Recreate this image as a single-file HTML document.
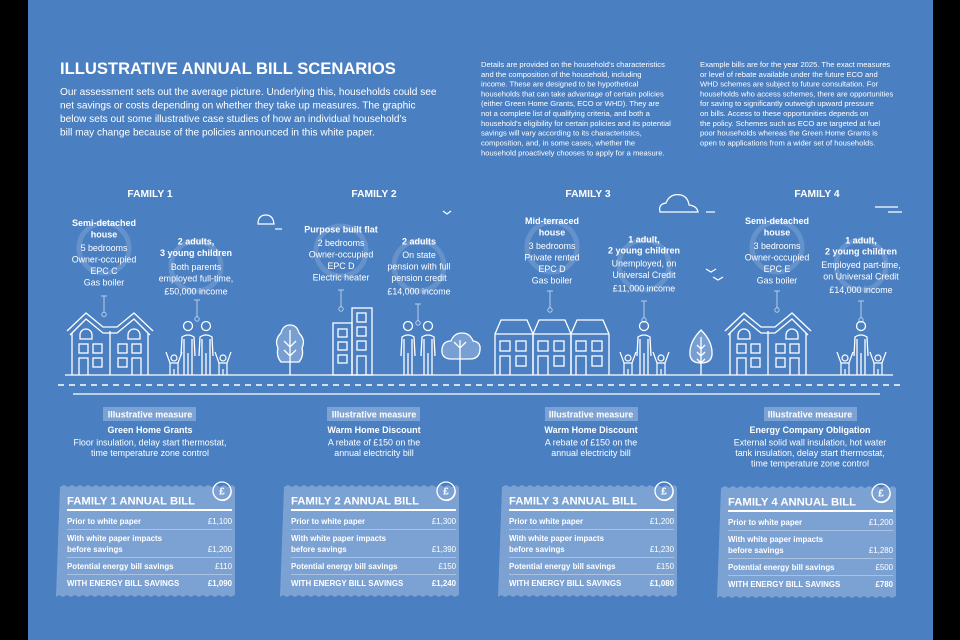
<!DOCTYPE html>
<html><head><meta charset="utf-8"><style>
html,body{margin:0;padding:0;background:#000;}
svg{display:block;}
text{font-family:"Liberation Sans",sans-serif;fill:#fff;}
.b{font-weight:bold;}
.s{font-size:7.6px;}
.f{font-size:8.9px;text-anchor:middle;}
.fb{font-size:9px;font-weight:bold;text-anchor:middle;}
.r{font-size:7.9px;font-weight:bold;}
.v{font-size:7.9px;text-anchor:end;}
</style></head><body>
<svg width="960" height="640" viewBox="0 0 960 640" xmlns="http://www.w3.org/2000/svg">
<defs>
<g id="adult" fill="none" stroke="#fff" stroke-width="1.3"><circle cx="0" cy="-49" r="4.5"/><path d="M-7,-19 L-6,-38 Q0,-42 6,-38 L7,-19 M-4,0 V-36 M4,0 V-36 M0,-22 V0"/></g>
<g id="child" fill="none" stroke="#fff" stroke-width="1.2"><circle cx="0" cy="-17" r="3"/><path d="M-8,-23 L-4,-12 L-4,0 M8,-23 L4,-12 L4,0 M-4,-12 H4 M0,-6 V0"/></g>
<g id="semi" fill="none" stroke="#fff" stroke-width="1.3">
<path d="M0,22 L19,4 L36,18 L50,18 L67,4 L86,22"/>
<path d="M3,26 L19,10 L36,24 L50,24 L67,10 L83,26"/>
<path d="M5,24 V66 M81,24 V66 M43,22 V66"/>
<path d="M13,30 V26 A6,6 0 0 1 25,26 V30 Z M61,30 V26 A6,6 0 0 1 73,26 V30 Z"/>
<rect x="12" y="35" width="9" height="9"/><rect x="26" y="35" width="9" height="9"/><rect x="51" y="35" width="9" height="9"/><rect x="65" y="35" width="9" height="9"/>
<path d="M12,66 V49 H21 V66 M65,66 V49 H74 V66"/>
<rect x="26" y="49" width="9" height="9"/><rect x="51" y="49" width="9" height="9"/>
</g>
<g id="terr" fill="none" stroke="#fff" stroke-width="1.3">
<path d="M0,55 V14 L6,0 H32 L38,14 V55 M0,14 H38"/>
<rect x="5" y="21" width="10" height="10"/><rect x="21" y="21" width="10" height="10"/>
<path d="M5,55 V36 H15 V55"/><rect x="21" y="36" width="10" height="10"/>
</g>
<g id="coin" fill="none" stroke="#fff" stroke-width="1.3"><circle r="9"/><path d="M-6,7 A9,9 0 0 0 9,-2" stroke-width="0.8"/><text x="0" y="3.5" font-size="10" font-weight="bold" text-anchor="middle" stroke="none">£</text></g>
<path id="bill" d="M0,2 l4,-2 l4,2 l4,-2 l4,2 l4,-2 l4,2 l4,-2 l4,2 l4,-2 l4,2 l4,-2 l4,2 l4,-2 l4,2 l4,-2 l4,2 l4,-2 l4,2 l4,-2 l4,2 l4,-2 l4,2 l4,-2 l4,2 l4,-2 l4,2 l4,-2 l4,2 l4,-2 l4,2 l4,-2 l4,2 l4,-2 l4,2 l4,-2 l4,2 l4,-2 l4,2 l4,-2 l4,2 l4,-2 l4,2 l4,-2 l3,2 V110 l-4,2 l-4,-2 l-4,2 l-4,-2 l-4,2 l-4,-2 l-4,2 l-4,-2 l-4,2 l-4,-2 l-4,2 l-4,-2 l-4,2 l-4,-2 l-4,2 l-4,-2 l-4,2 l-4,-2 l-4,2 l-4,-2 l-4,2 l-4,-2 l-4,2 l-4,-2 l-4,2 l-4,-2 l-4,2 l-4,-2 l-4,2 l-4,-2 l-4,2 l-4,-2 l-4,2 l-4,-2 l-4,2 l-4,-2 l-4,2 l-4,-2 l-4,2 l-4,-2 l-4,2 l-4,-2 l-4,2 l-4,-2 l-3,2 Z" fill="#fff" fill-opacity="0.28"/>
</defs>
<rect x="0" y="0" width="960" height="640" fill="#000"/>
<rect x="28" y="0" width="905" height="640" fill="#4a7fc2"/>

<text x="60" y="74" class="b" font-size="16.6">ILLUSTRATIVE ANNUAL BILL SCENARIOS</text>
<g font-size="10.1">
<text x="60" y="95">Our assessment sets out the average picture. Underlying this, households could see</text>
<text x="60" y="108.5">net savings or costs depending on whether they take up measures. The graphic</text>
<text x="60" y="122">below sets out some illustrative case studies of how an individual household’s</text>
<text x="60" y="135.5">bill may change because of the policies announced in this white paper.</text>
</g>
<g class="s">
<text x="481" y="67">Details are provided on the household’s characteristics</text>
<text x="481" y="77">and the composition of the household, including</text>
<text x="481" y="86.5">income. These are designed to be hypothetical</text>
<text x="481" y="96.5">households that can take advantage of certain policies</text>
<text x="481" y="106">(either Green Home Grants, ECO or WHD). They are</text>
<text x="481" y="116">not a complete list of qualifying criteria, and both a</text>
<text x="481" y="126">household’s eligibility for certain policies and its potential</text>
<text x="481" y="135.5">savings will vary according to its characteristics,</text>
<text x="481" y="145.5">composition, and, in some cases, whether the</text>
<text x="481" y="155.5">household proactively chooses to apply for a measure.</text>
<text x="700" y="67">Example bills are for the year 2025. The exact measures</text>
<text x="700" y="77">or level of rebate available under the future ECO and</text>
<text x="700" y="86.5">WHD schemes are subject to future consultation. For</text>
<text x="700" y="96.5">households who access schemes, there are opportunities</text>
<text x="700" y="106">for saving to significantly outweigh upward pressure</text>
<text x="700" y="116">on bills. Access to these opportunities depends on</text>
<text x="700" y="126">the policy. Schemes such as ECO are targeted at fuel</text>
<text x="700" y="135.5">poor households whereas the Green Home Grants is</text>
<text x="700" y="145.5">open to applications from a wider set of households.</text>
</g>

<g class="b" font-size="10.3" text-anchor="middle">
<text x="150" y="197">FAMILY 1</text><text x="374" y="197">FAMILY 2</text><text x="588" y="197">FAMILY 3</text><text x="817" y="197">FAMILY 4</text>
</g>

<g fill="none" stroke="#fff" stroke-opacity="0.15" stroke-width="5">
<circle cx="104" cy="248" r="25"/><circle cx="196" cy="266" r="25"/><circle cx="341" cy="251" r="25"/><circle cx="419" cy="266" r="25"/>
<circle cx="552" cy="247" r="25"/><circle cx="644" cy="265" r="25"/><circle cx="777" cy="247" r="25"/><circle cx="861" cy="265" r="25"/>
</g>

<g>
<text x="104" y="226" class="fb">Semi-detached</text><text x="104" y="237.5" class="fb">house</text>
<text x="104" y="251" class="f">5 bedrooms</text><text x="104" y="262.5" class="f">Owner-occupied</text><text x="104" y="274" class="f">EPC C</text><text x="104" y="285.5" class="f">Gas boiler</text>
<text x="196" y="244.5" class="fb">2 adults,</text><text x="196" y="256" class="fb">3 young children</text>
<text x="196" y="270" class="f">Both parents</text><text x="196" y="281.5" class="f">employed full-time,</text><text x="196" y="294.5" class="f">£50,000 income</text>
<text x="341" y="232.5" class="fb">Purpose built flat</text>
<text x="341" y="246" class="f">2 bedrooms</text><text x="341" y="257.5" class="f">Owner-occupied</text><text x="341" y="269" class="f">EPC D</text><text x="341" y="280.5" class="f">Electric heater</text>
<text x="419" y="244.5" class="fb">2 adults</text>
<text x="419" y="258" class="f">On state</text><text x="419" y="269.5" class="f">pension with full</text><text x="419" y="281" class="f">pension credit</text><text x="419" y="294.5" class="f">£14,000 income</text>
<text x="552" y="224" class="fb">Mid-terraced</text><text x="552" y="235.5" class="fb">house</text>
<text x="552" y="249" class="f">3 bedrooms</text><text x="552" y="260.5" class="f">Private rented</text><text x="552" y="272" class="f">EPC D</text><text x="552" y="283.5" class="f">Gas boiler</text>
<text x="644" y="242.5" class="fb">1 adult,</text><text x="644" y="253.5" class="fb">2 young children</text>
<text x="644" y="266.5" class="f">Unemployed, on</text><text x="644" y="278" class="f">Universal Credit</text><text x="644" y="291.5" class="f">£11,000 income</text>
<text x="777" y="224" class="fb">Semi-detached</text><text x="777" y="235.5" class="fb">house</text>
<text x="777" y="249" class="f">3 bedrooms</text><text x="777" y="260.5" class="f">Owner-occupied</text><text x="777" y="272" class="f">EPC E</text><text x="777" y="283.5" class="f">Gas boiler</text>
<text x="861" y="243.5" class="fb">1 adult,</text><text x="861" y="254.5" class="fb">2 young children</text>
<text x="861" y="268" class="f">Employed part-time,</text><text x="861" y="279.5" class="f">on Universal Credit</text><text x="861" y="293" class="f">£14,000 income</text>
</g>

<g fill="none" stroke="#fff" stroke-opacity="0.6" stroke-width="1">
<path d="M101,296 H107 M104,296 V312"/><circle cx="104" cy="314.5" r="2.2"/>
<path d="M194,300 H200 M197,300 V317"/><circle cx="197" cy="319" r="2.2"/>
<path d="M338,290 H344 M341,290 V307"/><circle cx="341" cy="309" r="2.2"/>
<path d="M415,304 H421 M418,304 V321"/><circle cx="418" cy="323" r="2.2"/>
<path d="M547,291 H553 M550,291 V308"/><circle cx="550" cy="310" r="2.2"/>
<path d="M641,301 H647 M644,301 V318"/><circle cx="644" cy="320" r="2.2"/>
<path d="M774,291 H780 M777,291 V308"/><circle cx="777" cy="310" r="2.2"/>
<path d="M858,301 H864 M861,301 V318"/><circle cx="861" cy="320" r="2.2"/>
</g>

<g fill="none" stroke="#fff" stroke-width="1.2">
<path d="M258,224 Q258,215 266,215 Q273,215 274,224 Z"/><path d="M275,229 H282"/>
<path d="M443,211 L447,214 L451,211"/>
<path d="M660,212 Q658,204 666,203 Q670,193 681,195 Q688,197 689,205 Q697,206 698,212 Z"/><path d="M706,212 H715"/>
<path d="M706,269 L711,272 L716,269 M713,277 L718,280 L723,277"/>
<path d="M875,207 H898 M888,212 H902"/>
</g>

<use href="#semi" x="67" y="309"/>
<use href="#semi" x="725" y="309"/>
<g fill="none" stroke="#fff" stroke-width="1.3">
<path d="M290,375 V330 M284,341 L290,347 L296,341 M284,350 L290,356 L296,350"/>
<path d="M281,362 Q276,356 278,348 Q274,340 281,333 Q283,325 290,325 Q297,325 299,333 Q306,340 302,348 Q304,356 299,362 Z" fill="#fff" fill-opacity="0.25"/>
<rect x="333" y="323" width="19" height="52"/><rect x="352" y="308" width="20" height="67"/>
<rect x="338" y="329" width="9" height="8"/><rect x="338" y="342" width="9" height="8"/><rect x="338" y="355" width="9" height="8"/>
<rect x="357" y="313" width="9" height="9"/><rect x="357" y="327" width="9" height="9"/><rect x="357" y="341" width="9" height="9"/><path d="M357,375 V356 H366 V375"/>
<path d="M460,375 V340 M454,342 L460,348 L466,342"/>
<path d="M450,359 Q441,358 442,349 Q443,341 451,341 Q454,333 462,333 Q470,333 473,341 Q481,342 480,350 Q479,359 470,359 Z" fill="#fff" fill-opacity="0.25"/>
<path d="M701,375 V337 M697,345 L701,349 L705,345 M697,352 L701,356 L705,352 M697,359 L701,363 L705,359"/>
<path d="M701,330 Q713,342 712,355 Q711,363 701,363 Q691,363 690,355 Q689,342 701,330 Z" fill="#fff" fill-opacity="0.25"/>
<path d="M65,375 H893"/>
<path d="M58,385 H900" stroke-dasharray="6,5" stroke-width="1.5"/>
<path d="M73,394 H880"/>
</g>
<use href="#terr" x="495" y="320"/><use href="#terr" x="533" y="320"/><use href="#terr" x="571" y="320"/>
<use href="#child" x="174" y="375"/><use href="#adult" x="188" y="375"/><use href="#adult" x="206" y="375"/><use href="#child" x="223" y="375"/>
<use href="#adult" x="408" y="375"/><use href="#adult" x="428" y="375"/>
<use href="#child" x="628" y="375"/><use href="#adult" x="644" y="375"/><use href="#child" x="661" y="375"/>
<use href="#child" x="845" y="375"/><use href="#adult" x="861" y="375"/><use href="#child" x="878" y="375"/>

<g fill="#fff" fill-opacity="0.28">
<rect x="103" y="407" width="93" height="14"/><rect x="327" y="407" width="93" height="14"/><rect x="545" y="407" width="93" height="14"/><rect x="764" y="407" width="93" height="14"/>
</g>
<text x="150" y="417.5" class="fb">Illustrative measure</text><text x="374" y="417.5" class="fb">Illustrative measure</text><text x="591" y="417.5" class="fb">Illustrative measure</text><text x="810" y="417.5" class="fb">Illustrative measure</text>
<text x="150" y="433" class="fb">Green Home Grants</text><text x="374" y="433" class="fb">Warm Home Discount</text><text x="591" y="433" class="fb">Warm Home Discount</text><text x="810" y="433" class="fb">Energy Company Obligation</text>
<text x="150" y="445.5" class="f">Floor insulation, delay start thermostat,</text><text x="150" y="456" class="f">time temperature zone control</text>
<text x="374" y="445.5" class="f">A rebate of £150 on the</text><text x="374" y="456" class="f">annual electricity bill</text>
<text x="591" y="445.5" class="f">A rebate of £150 on the</text><text x="591" y="456" class="f">annual electricity bill</text>
<text x="810" y="445.5" class="f">External solid wall insulation, hot water</text><text x="810" y="456" class="f">tank insulation, delay start thermostat,</text><text x="810" y="466.5" class="f">time temperature zone control</text>

<g transform="translate(60,485)">
<use href="#bill"/>
<text x="7" y="19.5" class="b" font-size="11.3">FAMILY 1 ANNUAL BILL</text>
<rect x="7" y="24" width="165" height="2" fill="#fff"/>
<g fill="#fff" fill-opacity="0.35"><rect x="7" y="44" width="165" height="1"/><rect x="7" y="72" width="165" height="1"/><rect x="7" y="89" width="165" height="1"/></g>
<text x="7" y="39" class="r">Prior to white paper</text><text x="172" y="39" class="v">£1,100</text>
<text x="7" y="56" class="r">With white paper impacts</text><text x="7" y="67" class="r">before savings</text><text x="172" y="67" class="v">£1,200</text>
<text x="7" y="84" class="r">Potential energy bill savings</text><text x="172" y="84" class="v">£110</text>
<text x="7" y="101" class="r">WITH ENERGY BILL SAVINGS</text><text x="172" y="101" class="v b">£1,090</text>
<use href="#coin" x="162" y="6"/>
</g>
<g transform="translate(284,485)">
<use href="#bill"/>
<text x="7" y="19.5" class="b" font-size="11.3">FAMILY 2 ANNUAL BILL</text>
<rect x="7" y="24" width="165" height="2" fill="#fff"/>
<g fill="#fff" fill-opacity="0.35"><rect x="7" y="44" width="165" height="1"/><rect x="7" y="72" width="165" height="1"/><rect x="7" y="89" width="165" height="1"/></g>
<text x="7" y="39" class="r">Prior to white paper</text><text x="172" y="39" class="v">£1,300</text>
<text x="7" y="56" class="r">With white paper impacts</text><text x="7" y="67" class="r">before savings</text><text x="172" y="67" class="v">£1,390</text>
<text x="7" y="84" class="r">Potential energy bill savings</text><text x="172" y="84" class="v">£150</text>
<text x="7" y="101" class="r">WITH ENERGY BILL SAVINGS</text><text x="172" y="101" class="v b">£1,240</text>
<use href="#coin" x="162" y="6"/>
</g>
<g transform="translate(502,485)">
<use href="#bill"/>
<text x="7" y="19.5" class="b" font-size="11.3">FAMILY 3 ANNUAL BILL</text>
<rect x="7" y="24" width="165" height="2" fill="#fff"/>
<g fill="#fff" fill-opacity="0.35"><rect x="7" y="44" width="165" height="1"/><rect x="7" y="72" width="165" height="1"/><rect x="7" y="89" width="165" height="1"/></g>
<text x="7" y="39" class="r">Prior to white paper</text><text x="172" y="39" class="v">£1,200</text>
<text x="7" y="56" class="r">With white paper impacts</text><text x="7" y="67" class="r">before savings</text><text x="172" y="67" class="v">£1,230</text>
<text x="7" y="84" class="r">Potential energy bill savings</text><text x="172" y="84" class="v">£150</text>
<text x="7" y="101" class="r">WITH ENERGY BILL SAVINGS</text><text x="172" y="101" class="v b">£1,080</text>
<use href="#coin" x="162" y="6"/>
</g>
<g transform="translate(721,486)">
<use href="#bill"/>
<text x="7" y="19.5" class="b" font-size="11.3">FAMILY 4 ANNUAL BILL</text>
<rect x="7" y="24" width="165" height="2" fill="#fff"/>
<g fill="#fff" fill-opacity="0.35"><rect x="7" y="44" width="165" height="1"/><rect x="7" y="72" width="165" height="1"/><rect x="7" y="89" width="165" height="1"/></g>
<text x="7" y="39" class="r">Prior to white paper</text><text x="172" y="39" class="v">£1,200</text>
<text x="7" y="56" class="r">With white paper impacts</text><text x="7" y="67" class="r">before savings</text><text x="172" y="67" class="v">£1,280</text>
<text x="7" y="84" class="r">Potential energy bill savings</text><text x="172" y="84" class="v">£500</text>
<text x="7" y="101" class="r">WITH ENERGY BILL SAVINGS</text><text x="172" y="101" class="v b">£780</text>
<use href="#coin" x="160" y="7"/>
</g>
</svg>
</body></html>
